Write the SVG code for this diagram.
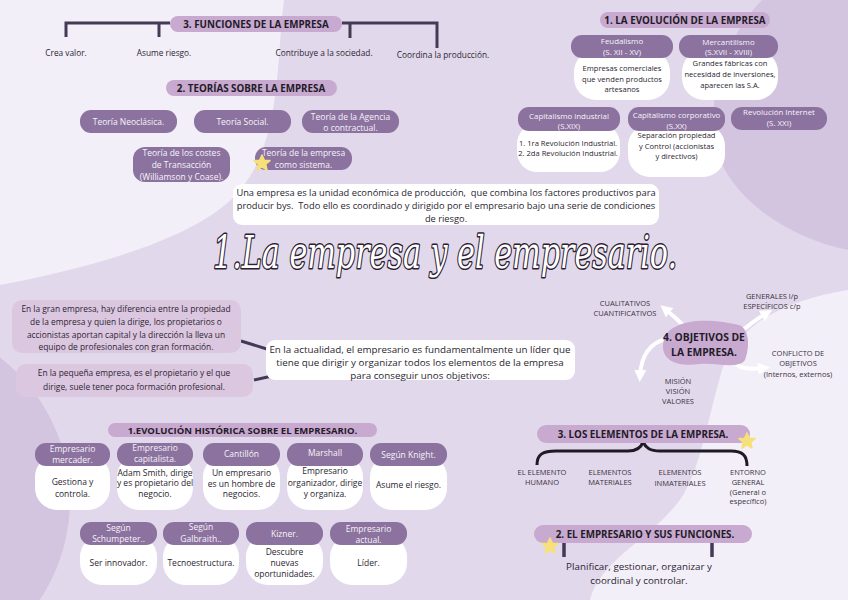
<svg xmlns="http://www.w3.org/2000/svg" width="848" height="600" viewBox="0 0 848 600">
<defs>
<style>
text{font-family:"Open Sans","Noto Sans",sans-serif;text-anchor:middle;fill:#2b2530}
.pill{fill:#c8a9cf}
.dark{fill:#8b729f}
.white{fill:#ffffff}
.pink{fill:#dcc7e1}
.h{font-weight:700;font-size:9.8px;fill:#221b28}
.t{font-size:8.5px}
.f{font-size:8.3px}
.w{font-size:7.6px}
.d{font-size:8.5px;fill:#f7f2f9}
.dd{font-size:7.9px;fill:#f7f2f9}
.s{font-size:7.5px;fill:#3a3340}
.b{font-size:9.8px}
.ln{fill:none;stroke:#453a55;stroke-width:3}
.arr{fill:none;stroke:#ffffff;stroke-width:4;stroke-linecap:round}
</style>
<marker id="ah" viewBox="0 0 10 10" refX="5" refY="5" markerWidth="3" markerHeight="3" orient="auto">
<path d="M0,0 L10,5 L0,10 Z" fill="#ffffff"/>
</marker>
<path id="star" d="M0,-8 L2.4,-2.6 L8,-2.4 L3.7,1.2 L5,7 L0,3.9 L-5,7 L-3.7,1.2 L-8,-2.4 L-2.4,-2.6 Z" fill="#f6e07a" stroke="#f6e07a" stroke-width="1.5" stroke-linejoin="round"/>
</defs>

<!-- background -->
<rect width="848" height="600" fill="#e2d8ec"/>
<path d="M0,0 L284,0 C276,60 282,140 240,190 C200,240 80,270 0,285 Z" fill="#f3eff8"/>
<path d="M762,0 C722,40 702,110 720,160 C742,210 800,240 848,250 L848,0 Z" fill="#d3c5e0"/>
<path d="M848,290 C790,300 740,320 722,370 C705,430 700,470 680,500 C650,540 600,560 590,600 L848,600 Z" fill="#f3eff8"/>
<circle cx="-110" cy="500" r="180" fill="#d3c5e0"/>

<!-- connectors -->
<g id="connectors">
<path class="ln" d="M66,37 L66,23 L170,23 M159,23 L159,37"/>
<path class="ln" d="M342,23 L437,23 L437,48 M350,23 L350,38"/>
<path class="ln" d="M241,341 L270,350"/>
<path class="ln" d="M254,380 L272,376"/>
<path class="arr" d="M683,325 C676,318 670,313 665,309" marker-end="url(#ah)"/>
<path class="arr" d="M742,331 C750,324 758,318 767,313" marker-end="url(#ah)"/>
<path class="arr" d="M667,339 C650,342 641,356 640,376" marker-end="url(#ah)"/>
<path class="arr" d="M733,356 C733,368 746,370 764,368" marker-end="url(#ah)"/>
<path d="M537,465 C537,454 543,451 556,451 L628,451 C637,451 641,448 643,442 C646,448 650,451 660,451 L731,451 C742,451 747,455 747,466" fill="none" stroke="#1f1a24" stroke-width="3"/>
<path d="M564,543 L564,557 M712,543 L712,557" fill="none" stroke="#453a55" stroke-width="3.5"/>
</g>

<!-- 3. funciones -->
<g id="funciones">
<rect class="pill" x="170" y="16" width="172" height="16" rx="8"/>
<text class="h" x="256" y="27.5">3. FUNCIONES DE LA EMPRESA</text>
<text class="f" x="66" y="56">Crea valor.</text>
<text class="f" x="164" y="56">Asume riesgo.</text>
<text class="f" x="324" y="56">Contribuye a la sociedad.</text>
<text class="f" x="443" y="58">Coordina la producción.</text>
</g>

<!-- 2. teorias -->
<g id="teorias">
<rect class="pill" x="166" y="80" width="171" height="16" rx="8"/>
<text class="h" x="251" y="91.5">2. TEORÍAS SOBRE LA EMPRESA</text>
</g>
<g id="neoclasica"><rect class="dark" x="80" y="110" width="97" height="23" rx="11"/><text class="d" x="128.5" y="125">Teoría Neoclásica.</text></g>
<g id="social"><rect class="dark" x="194" y="110" width="97" height="23" rx="11"/><text class="d" x="242.5" y="124.5">Teoría Social.</text></g>
<g id="agencia"><rect class="dark" x="302" y="110" width="97" height="23" rx="11"/><text class="d" x="350.5" y="120">Teoría de la Agencia</text><text class="d" x="350.5" y="130.5">o contractual.</text></g>
<g id="costes"><rect class="dark" x="133" y="147" width="97" height="35" rx="12"/><text class="d" x="181.5" y="156">Teoría de los costes</text><text class="d" x="181.5" y="168">de Transacción</text><text class="d" x="181.5" y="179.5">(Williamson y Coase).</text></g>
<g id="sistema"><rect class="dark" x="255" y="147" width="97" height="23" rx="11"/><text class="d" x="303.5" y="156">Teoría de la empresa</text><text class="d" x="303.5" y="167.5">como sistema.</text><use href="#star" x="262" y="163"/></g>

<!-- 1. evolucion empresa -->
<g id="evolucion">
<rect class="pill" x="600" y="12" width="170" height="16" rx="8"/>
<text class="h" x="685" y="23.5">1. LA EVOLUCIÓN DE LA EMPRESA</text>
</g>
<g id="feudalismo">
<rect class="white" x="574" y="50" width="96" height="50" rx="22"/>
<rect class="dark" x="571" y="35" width="102" height="23" rx="11"/>
<text class="dd" x="622" y="43.5">Feudalismo</text><text class="dd" x="622" y="54.5">(S. XII - XV)</text>
<text class="w" x="622" y="71">Empresas comerciales</text><text class="w" x="622" y="81.5">que venden productos</text><text class="w" x="622" y="92">artesanos</text>
</g>
<g id="mercantilismo">
<rect class="white" x="682" y="50" width="96" height="50" rx="22"/>
<rect class="dark" x="679" y="35" width="99" height="23" rx="11"/>
<text class="dd" x="728.5" y="44.5">Mercantilismo</text><text class="dd" x="728.5" y="55">(S.XVII - XVIII)</text>
<text class="w" x="730" y="65.5">Grandes fábricas con</text><text class="w" x="730" y="76.5">necesidad de inversiones,</text><text class="w" x="730" y="87.5">aparecen las S.A.</text>
</g>
<g id="industrial">
<rect class="white" x="517" y="124" width="103" height="48" rx="20"/>
<rect class="dark" x="518" y="107" width="102" height="24" rx="11"/>
<text class="dd" x="569" y="118.5">Capitalismo industrial</text><text class="dd" x="569" y="128.5">(S.XIX)</text>
<text class="w" x="568" y="145.5">1. 1ra Revolución Industrial.</text><text class="w" x="568" y="155.5">2. 2da Revolución Industrial.</text>
</g>
<g id="corporativo">
<rect class="white" x="628" y="124" width="97" height="53" rx="22"/>
<rect class="dark" x="628" y="107" width="97" height="24" rx="11"/>
<text class="dd" x="676.5" y="118">Capitalismo corporativo</text><text class="dd" x="676.5" y="128.5">(S.XX)</text>
<text class="w" x="676.5" y="138">Separación propiedad</text><text class="w" x="676.5" y="148.5">y Control (accionistas</text><text class="w" x="676.5" y="158.5">y directivos)</text>
</g>
<g id="internet">
<rect class="dark" x="731" y="107" width="96" height="23" rx="11"/>
<text class="dd" x="779" y="115">Revolución Internet</text><text class="dd" x="779" y="125.5">(S. XXI)</text>
</g>

<!-- definition -->
<g id="definicion">
<rect class="white" x="233" y="184" width="426" height="41" rx="9"/>
<text class="b" x="446" y="196" xml:space="preserve" style="font-size:9.3px">Una empresa es la unidad económica de producción,  que combina los factores productivos para</text>
<text class="b" x="446" y="209" xml:space="preserve" style="font-size:9.3px">producir bys.  Todo ello es coordinado y dirigido por el empresario bajo una serie de condiciones</text>
<text class="b" x="446" y="222" style="font-size:9.3px">de riesgo.</text>
</g>

<!-- title -->
<g id="titulo">
<text x="445" y="268" textLength="464" lengthAdjust="spacingAndGlyphs" style="font-family:'DejaVu Serif',serif;font-style:italic;font-size:44px;fill:#ffffff;stroke:#2a2030;stroke-width:3;paint-order:stroke;stroke-linejoin:round">1.La empresa y el empresario.</text>
</g>

<!-- left boxes -->
<g id="gran">
<rect class="pill" x="12" y="300" width="229" height="53" rx="10" style="fill:#dcc7e1"/>
<text class="t" x="126" y="311.5" style="font-size:8.4px">En la gran empresa, hay diferencia entre la propiedad</text>
<text class="t" x="126" y="324.5" style="font-size:8.4px">de la empresa y quien la dirige, los propietarios o</text>
<text class="t" x="126" y="337.5" style="font-size:8.4px">accionistas aportan capital y la dirección la lleva un</text>
<text class="t" x="126" y="350" style="font-size:8.4px">equipo de profesionales con gran formación.</text>
</g>
<g id="pequena">
<rect class="pink" x="16" y="364" width="237" height="33" rx="10"/>
<text class="t" x="134" y="376" style="font-size:8.4px">En la pequeña empresa, es el propietario y el que</text>
<text class="t" x="134" y="389.5" style="font-size:8.4px">dirige, suele tener poca formación profesional.</text>
</g>
<g id="actualidad">
<rect class="white" x="266" y="340" width="309" height="40" rx="9"/>
<text class="b" x="420" y="353">En la actualidad, el empresario es fundamentalmente un líder que</text>
<text class="b" x="420" y="366">tiene que dirigir y organizar todos los elementos de la empresa</text>
<text class="b" x="420" y="379">para conseguir unos objetivos:</text>
</g>

<!-- objetivos -->
<g id="objetivos">
<path d="M675,327 C692,317 722,321 739,325 C751,330 749,350 745,360 C738,370 716,362 700,364 C680,367 662,362 663,345 C664,336 667,331 675,327 Z" class="pill"/>
<text x="704" y="341" style="font-weight:700;font-size:10.3px;fill:#221b28">4. OBJETIVOS DE</text>
<text x="704" y="355.5" style="font-weight:700;font-size:10.3px;fill:#221b28">LA EMPRESA.</text>
</g>
<g id="obj-cual"><text class="s" x="625" y="306">CUALITATIVOS</text><text class="s" x="625" y="316">CUANTIFICATIVOS</text></g>
<g id="obj-gen"><text class="s" x="772" y="299">GENERALES l/p</text><text class="s" x="772" y="309">ESPECÍFICOS c/p</text></g>
<g id="obj-conf"><text class="s" x="798" y="356">CONFLICTO DE</text><text class="s" x="798" y="366">OBJETIVOS</text><text class="s" x="798" y="377">(Internos, externos)</text></g>
<g id="obj-mision"><text class="s" x="678" y="384">MISIÓN</text><text class="s" x="678" y="394">VISIÓN</text><text class="s" x="678" y="404">VALORES</text></g>

<!-- evolucion historica -->
<g id="historica">
<rect class="pill" x="108" y="423" width="269" height="14" rx="7"/>
<text class="h" x="242.5" y="433.5" style="font-size:9.5px">1.EVOLUCIÓN HISTÓRICA SOBRE EL EMPRESARIO.</text>
</g>
<g id="mercader">
<rect class="white" x="35" y="455" width="75" height="55" rx="22"/>
<rect class="dark" x="35" y="443" width="75" height="23" rx="11"/>
<text class="d" x="72.5" y="451.5">Empresario</text><text class="d" x="72.5" y="463">mercader.</text>
<text class="t" x="72.5" y="485">Gestiona y</text><text class="t" x="72.5" y="496.5">controla.</text>
</g>
<g id="capitalista">
<rect class="white" x="117" y="455" width="76" height="55" rx="22"/>
<rect class="dark" x="117" y="443" width="76" height="23" rx="11"/>
<text class="d" x="155" y="450.5">Empresario</text><text class="d" x="155" y="462">capitalista.</text>
<text class="t" x="155" y="475.5">Adam Smith, dirige</text><text class="t" x="155" y="486">y es propietario del</text><text class="t" x="155" y="497">negocio.</text>
</g>
<g id="cantillon">
<rect class="white" x="203" y="455" width="77" height="55" rx="22"/>
<rect class="dark" x="203" y="443" width="77" height="23" rx="11"/>
<text class="d" x="241.5" y="457">Cantillón</text>
<text class="t" x="241.5" y="476">Un empresario</text><text class="t" x="241.5" y="486.5">es un hombre de</text><text class="t" x="241.5" y="497">negocios.</text>
</g>
<g id="marshall">
<rect class="white" x="287" y="455" width="76" height="55" rx="22"/>
<rect class="dark" x="287" y="443" width="76" height="23" rx="11"/>
<text class="d" x="325" y="456">Marshall</text>
<text class="t" x="325" y="474">Empresario</text><text class="t" x="325" y="485.5">organizador, dirige</text><text class="t" x="325" y="497">y organiza.</text>
</g>
<g id="knight">
<rect class="white" x="370" y="455" width="77" height="55" rx="22"/>
<rect class="dark" x="370" y="443" width="77" height="23" rx="11"/>
<text class="d" x="408.5" y="458">Según Knight.</text>
<text class="t" x="408.5" y="488">Asume el riesgo.</text>
</g>
<g id="schumpeter">
<rect class="white" x="80" y="535" width="77" height="50" rx="22"/>
<rect class="dark" x="80" y="522" width="77" height="23" rx="11"/>
<text class="d" x="118.5" y="530.5">Según</text><text class="d" x="118.5" y="542">Schumpeter..</text>
<text class="t" x="118.5" y="565.5">Ser innovador.</text>
</g>
<g id="galbraith">
<rect class="white" x="163" y="535" width="76" height="50" rx="22"/>
<rect class="dark" x="163" y="522" width="76" height="23" rx="11"/>
<text class="d" x="201" y="530">Según</text><text class="d" x="201" y="541.5">Galbraith..</text>
<text class="t" x="201" y="565.5">Tecnoestructura.</text>
</g>
<g id="kizner">
<rect class="white" x="246" y="535" width="77" height="50" rx="22"/>
<rect class="dark" x="246" y="522" width="77" height="23" rx="11"/>
<text class="d" x="284.5" y="536.5">Kizner.</text>
<text class="t" x="284.5" y="555">Descubre</text><text class="t" x="284.5" y="566">nuevas</text><text class="t" x="284.5" y="577">oportunidades.</text>
</g>
<g id="actual">
<rect class="white" x="330" y="535" width="77" height="50" rx="22"/>
<rect class="dark" x="330" y="522" width="77" height="23" rx="11"/>
<text class="d" x="368.5" y="531.5">Empresario</text><text class="d" x="368.5" y="543">actual.</text>
<text class="t" x="368.5" y="565.5">Líder.</text>
</g>

<!-- elementos -->
<g id="elementos">
<rect class="pill" x="537" y="425" width="213" height="18" rx="9"/>
<text class="h" x="643" y="437.5">3. LOS ELEMENTOS DE LA EMPRESA.</text>
<use href="#star" x="747" y="441"/>
</g>
<g id="el-humano"><text class="s" x="542" y="475">EL ELEMENTO</text><text class="s" x="542" y="485">HUMANO</text></g>
<g id="el-materiales"><text class="s" x="610" y="475">ELEMENTOS</text><text class="s" x="610" y="485">MATERIALES</text></g>
<g id="el-inmateriales"><text class="s" x="680" y="475">ELEMENTOS</text><text class="s" x="680" y="486">INMATERIALES</text></g>
<g id="el-entorno"><text class="s" x="748" y="475">ENTORNO</text><text class="s" x="748" y="485">GENERAL</text><text class="s" x="748" y="494.5">(General o</text><text class="s" x="748" y="504">específico)</text></g>

<!-- empresario funciones -->
<g id="funciones-empresario">
<rect class="pill" x="534" y="525" width="218" height="18" rx="9"/>
<text class="h" x="645" y="537.5">2. EL EMPRESARIO Y SUS FUNCIONES.</text>
<use href="#star" x="550" y="546"/>
<text class="b" x="639" y="570">Planificar, gestionar, organizar y</text>
<text class="b" x="639" y="584">coordinal y controlar.</text>
</g>
</svg>
